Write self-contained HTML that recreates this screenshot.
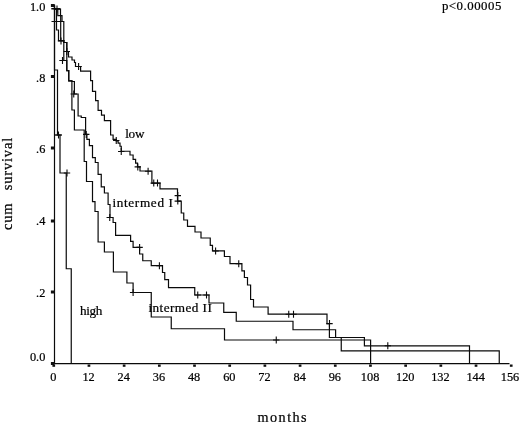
<!DOCTYPE html>
<html><head><meta charset="utf-8"><title>cum survival</title>
<style>
html,body{margin:0;padding:0;background:#fff;}
svg{display:block;}
text{font-family:"Liberation Serif","DejaVu Serif",serif;fill:#000;stroke:#000;stroke-width:0.22px;}
</style></head><body>
<svg width="520" height="423" viewBox="0 0 520 423">
<rect width="520" height="423" fill="#fff"/>
<g fill="none" stroke="#0a0a0a" stroke-width="1.2" stroke-linejoin="miter">
<path d="M54.5,4.5 V363.7 M52.5,363.7 H509.5"/>
<path d="M54.5,5.5 V70 H57.5 V135 H60 V173 H66.25 V268.75 H71.25 V363.5"/>
<path d="M54.5,9 H56.5 V30 H58.5 V40.6 H63.8 V60.5 H66.8 V70.6 H68.75 V80.8 H71.9 V110 H74.4 V130 H84.2 V161.5 H86.5 V181.5 H92.5 V201.7 H95 V211.5 H98.1 V242 H104.4 V252 H113.4 V272 H126.9 V283 H133.1 V292.5 H151.25 V317 H171.25 V328.75 H224.5 V340 H370.6 V363.5"/>
<path d="M54.5,9 H57.8 V15.6 H60.7 V40.6 H63.8 V42.5 H66.8 V70.6 H68.75 V80.8 H71.9 V81.5 H74.4 V94 H78.1 V116 H81.25 V117.5 H85.6 V134.4 H86.9 V139.4 H89.4 V145.6 H92.5 V157.7 H95.3 V162.5 H98.1 V174.4 H101.25 V186.9 H104.4 V193 H108.1 V204.5 H110 V217.5 H113.1 V222.5 H115.6 V235.4 H130.6 V241.3 H133.1 V247.3 H139.6 V254 H142.75 V260.75 H151.25 V265.7 H162.5 V272.5 H164.75 V279.6 H168.5 V287.6 H194.75 V295 H209 V303 H223.75 V312.3 H236.25 V321.25 H293 V329.75 H335.6 V337.5 H364.4 V345.9 H469.5 V363.5"/>
<path d="M54.5,5.5 V9 H60.5 V15.6 H62 V21.5 H63.8 V42.5 H66.8 V51.5 H68.5 V57 H72 V60 H74.5 V62.5 H75.5 V66.5 H80.6 V71.1 H90.6 V80.7 H92.5 V91.3 H95.6 V100.7 H98.1 V110.3 H101.5 V115.2 H104.4 V120.6 H110.6 V135 H113.1 V139.4 H116.25 V141 H118.1 V143.1 H120 V146.25 H121.25 V151.25 H130 V155 H133.1 V159.4 H135.6 V163.1 H137.5 V166.9 H140 V171 H151.9 V183.1 H160 V188.8 H177.5 V201.1 H181.25 V213 H183.75 V220 H187.5 V226.4 H195 V232 H201 V238 H210.25 V245.3 H212.5 V250.8 H224.4 V256.5 H230 V263.6 H241.9 V270.8 H244.4 V277.5 H247.5 V285 H250.6 V299.5 H253.5 V307 H268.1 V314.2 H327 V323.75 H329.4 V337.5 H341.25 V350.8 H499.25 V363.5"/>
<path d="M51.5,21.5 H63.8 M54.5,135 H62 M51.3,9 H60.5 M51.3,8.6 H60"/>
<path d="M53.8,9 H60.2 M57,5.5 V12.5 M57.8,41 H64.2 M61,37.5 V44.5 M59.3,60.5 H65.7 M62.5,57.0 V64.0 M63.599999999999994,51.5 H70.0 M66.8,48.0 V55.0 M75.39999999999999,66.5 H81.8 M78.6,63.0 V70.0 M63.8,173 H70.2 M67,169.5 V176.5 M55.3,135 H61.7 M58.5,131.5 V138.5 M70.55,94 H76.95 M73.75,90.5 V97.5 M83.05,134.4 H89.45 M86.25,130.9 V137.9 M106.55,217.5 H112.95 M109.75,214.0 V221.0 M136.4,247.4 H142.79999999999998 M139.6,243.9 V250.9 M156.20000000000002,265.8 H162.6 M159.4,262.3 V269.3 M194.55,295 H200.95 M197.75,291.5 V298.5 M203.3,295 H209.7 M206.5,291.5 V298.5 M129.9,292.5 H136.29999999999998 M133.1,289.0 V296.0 M273.05,340 H279.45 M276.25,336.5 V343.5 M113.05,140.5 H119.45 M116.25,137.0 V144.0 M118.05,151.5 H124.45 M121.25,148.0 V155.0 M134.60000000000002,166.9 H141.0 M137.8,163.4 V170.4 M144.9,171.2 H151.29999999999998 M148.1,167.7 V174.7 M150.55,183.1 H156.95 M153.75,179.6 V186.6 M154.3,183.1 H160.7 M157.5,179.6 V186.6 M174.60000000000002,195.6 H181.0 M177.8,192.1 V199.1 M174.60000000000002,201.1 H181.0 M177.8,197.6 V204.6 M212.4,251 H218.79999999999998 M215.6,247.5 V254.5 M235.55,263.7 H241.95 M238.75,260.2 V267.2 M285.55,314.2 H291.95 M288.75,310.7 V317.7 M290.3,314.2 H296.7 M293.5,310.7 V317.7 M326.3,323.6 H332.7 M329.5,320.1 V327.1 M384.6,345.8 H391.0 M387.8,342.3 V349.3 " stroke-width="1.1"/>
</g>
<g fill="#111"><rect x="50.9" y="4.0" width="3.6" height="3"/><rect x="50.9" y="75.0" width="3.6" height="3"/><rect x="50.9" y="146.5" width="3.6" height="3"/><rect x="50.9" y="219.5" width="3.6" height="3"/><rect x="50.9" y="290.5" width="3.6" height="3"/><rect x="50.9" y="362.0" width="3.6" height="3"/><rect x="52.40" y="364.5" width="2.7" height="2.3"/><rect x="87.59" y="364.5" width="2.7" height="2.3"/><rect x="122.78" y="364.5" width="2.7" height="2.3"/><rect x="157.97" y="364.5" width="2.7" height="2.3"/><rect x="193.16" y="364.5" width="2.7" height="2.3"/><rect x="228.35" y="364.5" width="2.7" height="2.3"/><rect x="263.54" y="364.5" width="2.7" height="2.3"/><rect x="298.73" y="364.5" width="2.7" height="2.3"/><rect x="333.92" y="364.5" width="2.7" height="2.3"/><rect x="369.11" y="364.5" width="2.7" height="2.3"/><rect x="404.30" y="364.5" width="2.7" height="2.3"/><rect x="439.49" y="364.5" width="2.7" height="2.3"/><rect x="474.68" y="364.5" width="2.7" height="2.3"/><rect x="509.87" y="364.5" width="2.7" height="2.3"/></g>
<text x="45.3" y="11" text-anchor="end" font-size="12.3">1.0</text><text x="45.3" y="81.5" text-anchor="end" font-size="12.3">.8</text><text x="45.3" y="153.4" text-anchor="end" font-size="12.3">.6</text><text x="45.3" y="225" text-anchor="end" font-size="12.3">.4</text><text x="45.3" y="296.6" text-anchor="end" font-size="12.3">.2</text><text x="45.3" y="361.2" text-anchor="end" font-size="12.3">0.0</text><text x="53.35" y="381.2" text-anchor="middle" font-size="12.3">0</text><text x="88.54" y="381.2" text-anchor="middle" font-size="12.3">12</text><text x="123.73" y="381.2" text-anchor="middle" font-size="12.3">24</text><text x="158.92" y="381.2" text-anchor="middle" font-size="12.3">36</text><text x="194.11" y="381.2" text-anchor="middle" font-size="12.3">48</text><text x="229.30" y="381.2" text-anchor="middle" font-size="12.3">60</text><text x="264.49" y="381.2" text-anchor="middle" font-size="12.3">72</text><text x="299.68" y="381.2" text-anchor="middle" font-size="12.3">84</text><text x="334.87" y="381.2" text-anchor="middle" font-size="12.3">96</text><text x="370.06" y="381.2" text-anchor="middle" font-size="12.3">108</text><text x="405.25" y="381.2" text-anchor="middle" font-size="12.3">120</text><text x="440.44" y="381.2" text-anchor="middle" font-size="12.3">132</text><text x="475.63" y="381.2" text-anchor="middle" font-size="12.3">144</text><text x="510.00" y="381.2" text-anchor="middle" font-size="12.3">156</text>
<text x="441.9" y="10.1" font-size="12.8" textLength="59.5" lengthAdjust="spacing">p&lt;0.00005</text>
<text x="125.2" y="138.4" font-size="13.2" textLength="19.3" lengthAdjust="spacing">low</text>
<text x="112.4" y="206.5" font-size="13.2" textLength="60.6" lengthAdjust="spacing">intermed I</text>
<text x="148.4" y="311.6" font-size="13.2" textLength="63.4" lengthAdjust="spacing">intermed II</text>
<text x="80" y="314.5" font-size="13.2" textLength="22.3" lengthAdjust="spacing">high</text>
<text x="257.6" y="421.5" font-size="14.2" textLength="49" lengthAdjust="spacing">months</text>
<text transform="translate(12.3,230) rotate(-90)" font-size="14.5" textLength="26.5" lengthAdjust="spacing">cum</text>
<text transform="translate(12.3,190.3) rotate(-90)" font-size="14.5" textLength="52.5" lengthAdjust="spacing">survival</text>
</svg>
</body></html>
